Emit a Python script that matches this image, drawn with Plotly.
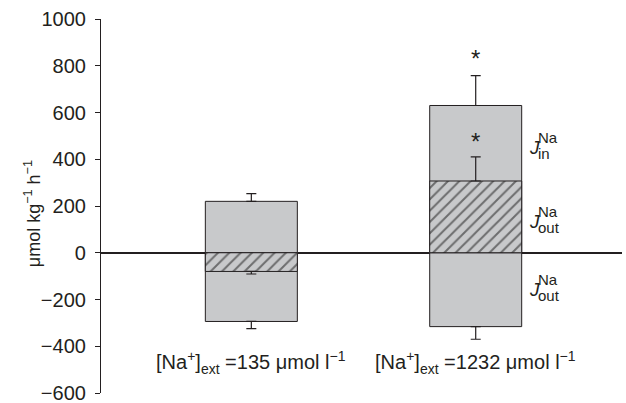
import plotly.graph_objects as go

groups = [0, 1]
group_labels = ["[Na<sup>+</sup>]<sub>ext</sub> =135 μmol l<sup>−1</sup>",
                "[Na<sup>+</sup>]<sub>ext</sub> =1232 μmol l<sup>−1</sup>"]
j_in = [220, 630]
j_in_se = [33, 128]
j_out = [-294, -316]
j_out_se = [31, 54]
j_net = [-80, 307]
j_net_se_up = [0, 103]
j_net_se_down = [11, 0]
star_y = [830, 474]
j_label_y = [450, 134, -158]
j_label_sub = ["in", "out", "out"]
y_title = "μmol kg<sup>−1</sup> h<sup>−1</sup>"

grey = "#c8c9cb"
ink = "#231f20"
font = "Liberation Sans, Arial, sans-serif"

fig = go.Figure()
fig.add_bar(x=groups, y=j_in, base=0, width=0.41,
            marker=dict(color=grey, line=dict(color=ink, width=1)),
            error_y=dict(type="data", array=j_in_se, arrayminus=[0, 0],
                         color=ink, thickness=1.2, width=5))
fig.add_bar(x=groups, y=j_out, base=0, width=0.41,
            marker=dict(color=grey, line=dict(color=ink, width=1)),
            error_y=dict(type="data", array=[0, 0], arrayminus=j_out_se,
                         color=ink, thickness=1.2, width=5))
fig.add_bar(x=groups, y=j_net, base=0, width=0.41,
            marker=dict(color=grey, line=dict(color=ink, width=1),
                        pattern=dict(shape="/", fgcolor="#111111", bgcolor=grey,
                                     size=8, solidity=0.25)),
            error_y=dict(type="data", array=j_net_se_up, arrayminus=j_net_se_down,
                         color=ink, thickness=1.2, width=5))

for g, lab in zip(groups, group_labels):
    fig.add_annotation(x=g, y=-468, text=lab, showarrow=False,
                       font=dict(size=20, color=ink, family=font))

for sy in star_y:
    fig.add_annotation(x=1, y=sy, text="*", showarrow=False,
                       font=dict(size=24, color=ink, family=font))

# J labels
for yv, sub in zip(j_label_y, j_label_sub):
    fig.add_annotation(x=1.228, y=yv, text="<i>J</i>", showarrow=False,
                       xanchor="left", font=dict(size=19, color=ink, family=font))
    fig.add_annotation(x=1.268, y=yv, yshift=10, text="Na", showarrow=False,
                       xanchor="left", font=dict(size=15, color=ink, family=font))
    fig.add_annotation(x=1.268, y=yv, yshift=-6, text=sub, showarrow=False,
                       xanchor="left", font=dict(size=15, color=ink, family=font))

# y axis title
fig.add_annotation(xref="paper", yref="paper", x=-0.157, y=0.48,
                   text=y_title, textangle=-90, showarrow=False,
                   font=dict(size=18, color=ink, family=font))

fig.update_layout(
    width=626, height=403,
    margin=dict(l=101, r=4, t=19, b=10),
    paper_bgcolor="white", plot_bgcolor="white",
    barmode="overlay", showlegend=False,
    font=dict(family=font, color=ink),
)
fig.update_xaxes(range=[-0.67, 1.652], visible=False)
fig.update_yaxes(range=[-600, 1000], tick0=0, dtick=200, automargin=False,
                 showgrid=False, showline=True, linecolor=ink, linewidth=1.2,
                 ticks="outside", ticklen=5, tickcolor=ink,
                 ticklabeloverflow="allow", ticklabelstandoff=5,
                 tickfont=dict(size=20, color=ink, family=font),
                 zeroline=True, zerolinecolor=ink, zerolinewidth=1.5)

fig.write_html("out.html", config={"displayModeBar": False},
               post_script="document.body.style.margin='0';document.body.style.overflow='hidden';")
